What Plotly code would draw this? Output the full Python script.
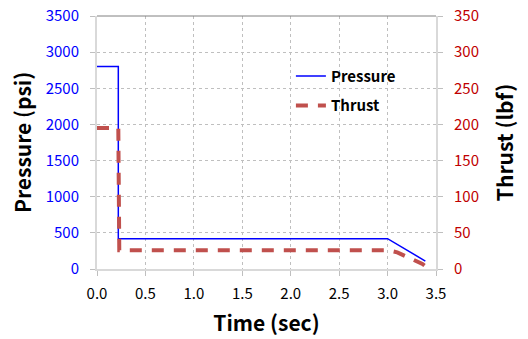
import plotly.graph_objects as go

p_time = [0.0, 0.22, 0.22, 3.0, 3.39]
p_val = [2800, 2800, 420, 420, 110]
t_time = [0.0, 0.22, 0.23, 3.0, 3.1, 3.2, 3.3, 3.36, 3.4, 3.42]
t_val = [195, 195, 26, 26, 23, 17, 11, 7, 3, 0]
x_ticks = [0.0, 0.5, 1.0, 1.5, 2.0, 2.5, 3.0, 3.5]
p_ticks = [0, 500, 1000, 1500, 2000, 2500, 3000, 3500]
t_ticks = [0, 50, 100, 150, 200, 250, 300, 350]

FONT = "Noto Sans CJK KR"
fig = go.Figure()
fig.add_trace(go.Scatter(x=p_time, y=p_val, name="<b>Pressure</b>", mode="lines", legendgroup="a",
                         line=dict(color="#0000ff", width=1.5)))
fig.add_trace(go.Scatter(x=t_time, y=t_val, name="<b>Thrust</b>", mode="lines", yaxis="y2", legendgroup="b",
                         line=dict(color="#c0504d", width=4, dash="12px,10px")))

grid = dict(showgrid=True, gridcolor="#bfbfbf", griddash="dot", gridwidth=1)
fig.update_layout(
    width=528, height=339,
    margin=dict(l=97, r=92, t=16, b=70),
    plot_bgcolor="white", paper_bgcolor="white",
    font=dict(family=FONT, size=15, color="black"),
    xaxis=dict(range=[0, 3.5], tickvals=x_ticks, ticktext=[f"{v:.1f}" for v in x_ticks],
               title=dict(text="<b>Time (sec)</b>", font=dict(size=21), standoff=14),
               showline=True, linecolor="#d9d9d9", linewidth=2, ticklabelstandoff=5, automargin=False,
               ticks="outside", ticklen=5, tickcolor="#bfbfbf", zeroline=False, **grid),
    yaxis=dict(range=[0, 3500], tickvals=p_ticks,
               title=dict(text="<b>Pressure (psi)</b>", font=dict(size=21), standoff=8),
               tickfont=dict(color="#0000ff", size=15), automargin=False,
               showline=True, linecolor="#d9d9d9", linewidth=2, ticklabelstandoff=8,
               ticks="outside", ticklen=5, tickcolor="#bfbfbf", zeroline=False, **grid),
    yaxis2=dict(range=[0, 350], tickvals=t_ticks, overlaying="y", side="right",
                title=dict(text="<b>Thrust (lbf)</b>", font=dict(size=21), standoff=20),
                tickfont=dict(color="#c00000", size=15), automargin=False,
                showline=True, linecolor="#d9d9d9", linewidth=2, ticklabelstandoff=8,
                ticks="outside", ticklen=5, tickcolor="#bfbfbf", showgrid=False, zeroline=False),
    legend=dict(x=0.572, y=0.827, xanchor="left", yanchor="top", bgcolor="rgba(255,255,255,0)",
                font=dict(size=15), traceorder="grouped", tracegroupgap=7, itemwidth=30),
    shapes=[dict(type="line", xref="paper", yref="paper", x0=0, x1=1, y0=1, y1=1,
                 line=dict(color="#808080", width=1))],
)
fig.write_html("out.html")
